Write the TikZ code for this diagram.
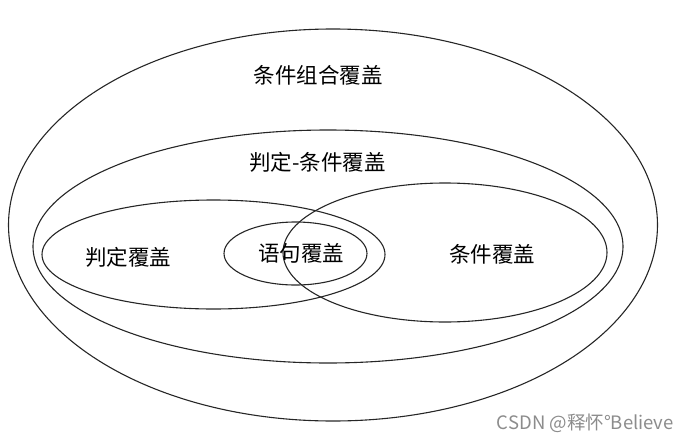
\documentclass[tikz,border=0pt]{standalone}
\usepackage{fontspec}
\newfontfamily\cjk{Noto Sans CJK SC}
\usepackage{tikz}
\usetikzlibrary{positioning}
\definecolor{markgray}{RGB}{140,140,140}
\tikzset{set/.style={draw=black!85, line width=1.1pt}}
\tikzset{label/.style={font=\cjk\fontsize{21.5}{21.5}\selectfont, inner sep=0pt}}

\begin{document}
\begin{tikzpicture}[x=1pt, y=-1pt]
	\useasboundingbox (0,0) rectangle (681,442);

	% centres of the sets
	\coordinate (all) at (333,225);
	\coordinate (dc) at (328,246.5);
	\coordinate (dec) at (213.5,254.5);
	\coordinate (cond) at (445,252.5);
	\coordinate (stmt) at (295.5,253.5);

	% sets
	\draw[set] (all) ellipse [x radius=324.5, y radius=196];
	\draw[set] (dc) ellipse [x radius=295, y radius=116.5];
	\draw[set] (dec) ellipse [x radius=171.5, y radius=54.5];
	\draw[set] (cond) ellipse [x radius=162, y radius=69.5];
	\draw[set] (stmt) ellipse [x radius=71.5, y radius=31.5];

	% labels
	\node[label] (all label) at (318,75) {条件组合覆盖};
	\node[label] (dc label) at (317.5,162) {判定-条件覆盖};
	\node[label] (dec label) at (128,257) {判定覆盖};
	\node[label] (stmt label) at (301,253) {语句覆盖};
	\node[label] (cond label) at (492,254) {条件覆盖};

	% watermark
	\node[font=\cjk\fontsize{18.5}{18.5}\selectfont, text=markgray, inner sep=0pt, anchor=east] (mark) at (674,423) {CSDN @释怀°Believe};
\end{tikzpicture}
\end{document}
